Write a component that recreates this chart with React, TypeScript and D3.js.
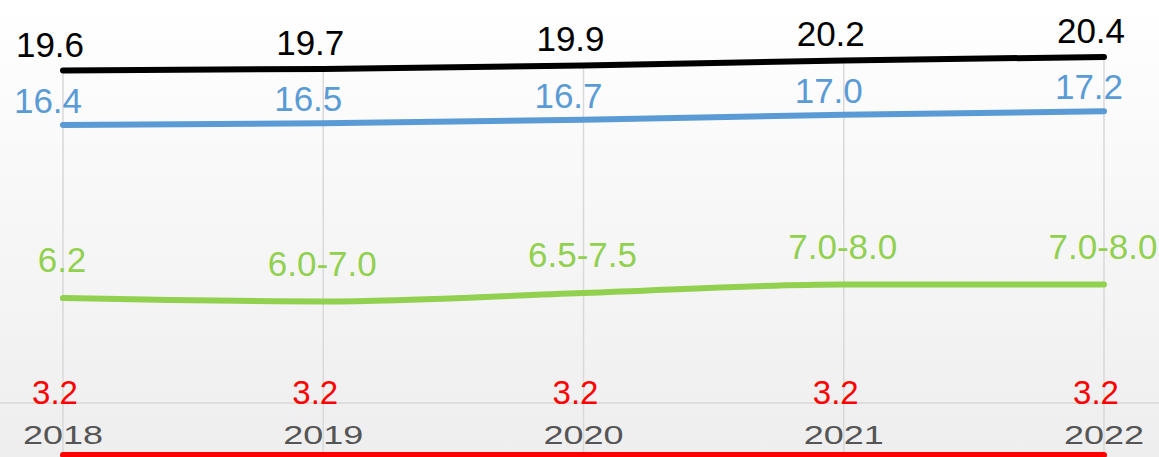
import React from "react";
import * as d3 from "d3";

const years = ["2018", "2019", "2020", "2021", "2022"];
const blackValues = [19.6, 19.7, 19.9, 20.2, 20.4];
const blueValues = [16.4, 16.5, 16.7, 17.0, 17.2];
const greenValues = [6.2, 6.0, 6.5, 7.0, 7.0];
const greenLabels = ["6.2", "6.0-7.0", "6.5-7.5", "7.0-8.0", "7.0-8.0"];
const redValues = [3.2, 3.2, 3.2, 3.2, 3.2];

const W = 1159;
const H = 457;

type Series = {
  values: number[];
  labels: string[];
  color: string;
  dx: number;
  dy: number;
  fontSize: number;
};

export default function App() {
  const x = d3.scalePoint<string>().domain(years).range([63, 1104]);
  const y = d3.scaleLinear().domain([3.2, 6.0, 20.4]).range([455, 301.5, 57]);

  const series: Series[] = [
    { values: blackValues, labels: blackValues.map((v) => v.toFixed(1)), color: "#000000", dx: -13, dy: -14, fontSize: 35 },
    { values: blueValues, labels: blueValues.map((v) => v.toFixed(1)), color: "#5b9bd5", dx: -15, dy: -12, fontSize: 35 },
    { values: greenValues, labels: greenLabels, color: "#92d050", dx: -1, dy: -26, fontSize: 35 },
    { values: redValues, labels: redValues.map((v) => v.toFixed(1)), color: "#ff0000", dx: -8, dy: -51, fontSize: 33 },
  ];

  const line = d3
    .line<number>()
    .x((_, i) => x(years[i]) as number)
    .y((d) => y(d))
    .curve(d3.curveMonotoneX);

  return (
    <div style={{ position: "fixed", left: 0, top: 0, width: W, height: H }}>
      <svg width={W} height={H} style={{ display: "block" }}>
        <defs>
          <linearGradient id="bg" x1="0" y1="0" x2="0" y2="1">
            <stop offset="0%" stopColor="#ffffff" />
            <stop offset="100%" stopColor="#eeeeee" />
          </linearGradient>
        </defs>
        <rect x={0} y={0} width={W} height={H} fill="url(#bg)" />
        <line x1={0} x2={W} y1={403} y2={403} stroke="#d9d9d9" strokeWidth={1.5} />
        {years.map((yr, i) => (
          <line
            key={"g" + yr}
            x1={x(yr)}
            x2={x(yr)}
            y1={y(blackValues[i])}
            y2={H}
            stroke="#d9d9d9"
            strokeWidth={1.5}
          />
        ))}
        {series.map((s, k) => (
          <path
            key={"l" + k}
            d={line(s.values) || ""}
            fill="none"
            stroke={s.color}
            strokeWidth={6}
            strokeLinecap="round"
            strokeLinejoin="round"
          />
        ))}
        {series.map((s, k) =>
          s.values.map((v, i) => (
            <text
              key={"t" + k + "-" + i}
              x={(x(years[i]) as number) + s.dx}
              y={y(v) + s.dy}
              textAnchor="middle"
              fontFamily="'Liberation Sans', Arial, sans-serif"
              fontSize={s.fontSize}
              fill={s.color}
            >
              {s.labels[i]}
            </text>
          ))
        )}
        {years.map((yr) => (
          <text
            key={"x" + yr}
            x={x(yr)}
            y={444}
            textAnchor="middle"
            fontFamily="'Liberation Sans', Arial, sans-serif"
            fontSize={26}
            fill="#555555"
            textLength={80}
            lengthAdjust="spacingAndGlyphs"
          >
            {yr}
          </text>
        ))}
      </svg>
    </div>
  );
}
